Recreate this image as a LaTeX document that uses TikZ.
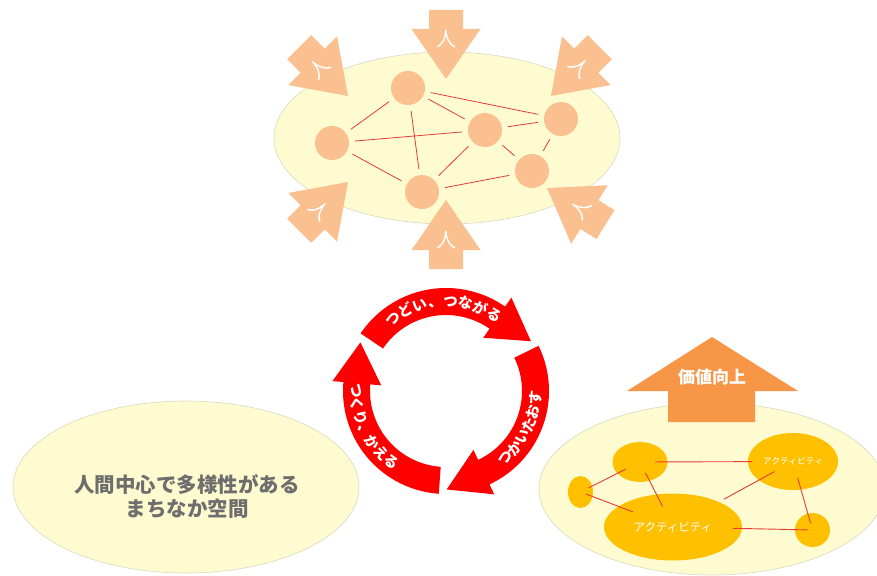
\documentclass[tikz,border=0pt]{standalone}
\usepackage{fontspec}
\newfontfamily\jp{Noto Sans CJK JP}
\usetikzlibrary{shapes.geometric,calc,decorations.text}
\definecolor{ellfill}{HTML}{FDFBCF}
\definecolor{ellline}{HTML}{D9D9C2}
\definecolor{peach}{HTML}{FAC090}
\definecolor{netred}{HTML}{E63B3B}
\definecolor{cycred}{HTML}{FF0000}
\definecolor{gold}{HTML}{FFC000}
\definecolor{orangeup}{HTML}{F79646}
\definecolor{txtgray}{HTML}{6E6E6E}
\newcommand\cyctxt{\jp\bfseries\fontsize{14.5}{14.5}\selectfont}
\tikzset{
  bigell/.style={ellipse, fill=ellfill, draw=ellline, line width=0.6pt, minimum width=346pt, minimum height=172pt, inner sep=0pt},
  hub/.style={circle, fill=peach, minimum size=34pt, inner sep=0pt},
  netline/.style={draw=netred, line width=0.8pt, shorten <=6pt, shorten >=6pt},
  actline/.style={draw=netred, line width=0.9pt},
  blob/.style={ellipse, fill=gold, inner sep=0pt, text=white},
  ptext/.style={text=white, font=\jp\fontsize{20}{20}\selectfont, transform shape, inner sep=0pt},
  pdown/.pic={\fill[peach] (0,0) -- (34.5,-50) -- (17,-50) -- (17,-69) -- (-17,-69) -- (-17,-50) -- (-34.5,-50) -- cycle;
              \node[ptext] (-t) at (0,-40) {人};},
  pup/.pic={\fill[peach] (0,0) -- (34.5,50) -- (17,50) -- (17,69) -- (-17,69) -- (-17,50) -- (-34.5,50) -- cycle;
              \node[ptext] (-t) at (0,40) {人};},
  cyctext/.style={decorate, decoration={text along path, text align=center, text color=white, text={|\cyctxt|#1}}}
}
\begin{document}
\begin{tikzpicture}[x=1pt,y=-1pt]
\useasboundingbox (0,0) rectangle (877,575);
\clip (0,0) rectangle (877,575);

% ---------- top: network ----------
\node[bigell] (net) at (447,138) {};
\node[hub] (A) at (408,88) {};
\node[hub] (B) at (332,143) {};
\node[hub] (C) at (485,130) {};
\node[hub] (D) at (561,119) {};
\node[hub] (E) at (422,192) {};
\node[hub] (F) at (532,171) {};
\foreach \u/\v in {A/B,A/C,A/D,A/E,B/C,B/E,C/D,C/E,C/F,D/F,E/F}
  \draw[netline] (\u) -- (\v);

\pic (pT) at (446,79) {pdown};
\pic[rotate=45] (pTL) at (348,96) {pdown};
\pic[rotate=-45] (pTR) at (551,96) {pdown};
\pic (pB) at (446,200) {pup};
\pic[rotate=-45] (pBL) at (348,182) {pup};
\pic[rotate=58] (pBR) at (547,188) {pup};

% ---------- left: city ----------
\node[bigell] (city) at (186,487) {};
\node[text=txtgray, align=center, font=\jp\bfseries\fontsize{20.5}{24}\selectfont] (citylabel) at (187,496) {人間中心で多様性がある\\まちなか空間};

% ---------- right: activities ----------
\node[bigell] (act) at (712,489) {};
\fill[orangeup] (712,337) -- (798,391) -- (755,391) -- (755,422) -- (668,422) -- (668,391) -- (627,391) -- cycle;
\node[text=white, font=\jp\bfseries\fontsize{17}{17}\selectfont] (value) at (712,377) {価値向上};

\node[blob, minimum width=55pt, minimum height=40pt] (E1) at (640,462) {};
\node[blob, minimum width=25pt, minimum height=32pt] (E2) at (580.5,492) {};
\node[blob, minimum width=138pt, minimum height=67pt, font=\jp\fontsize{11.5}{11.5}\selectfont] (E3) at (673,527) {アクティビティ};
\node[blob, minimum width=90pt, minimum height=57pt, font=\jp\fontsize{8.8}{8.8}\selectfont] (E4) at (793,461.5) {アクティビティ};
\node[blob, minimum width=35pt, minimum height=34pt] (E5) at (812.5,530) {};

\draw[actline, shorten <=16pt, shorten >=9pt] (E1.center) -- (E2.center);
\draw[actline, shorten <=15pt, shorten >=41pt] (E1.center) -- (E4.center);
\draw[actline, shorten <=12pt, shorten >=23pt] (E1.center) -- (E3.center);
\draw[actline, shorten <=6pt, shorten >=43pt] (E2.center) -- (E3.center);
\draw[actline, shorten <=58pt, shorten >=21pt] (E3.center) -- (E4.center);
\draw[actline, shorten <=60pt, shorten >=5pt] (E3.center) -- (E5.center);
\draw[actline, shorten <=17pt, shorten >=7pt] (E4.center) -- (E5.center);

% ---------- centre: cycle ----------
\begin{scope}[shift={(446,391)}, x=1pt, y=1pt]
\coordinate (cyc) at (0,0);
\fill[cycred] (146:103) arc[start angle=146, end angle=55, radius=103] -- (55:114) -- ($(55:89.5)+(-35:41)$) -- (55:65) -- (55:76) arc[start angle=55, end angle=146, radius=76] -- cycle;
\fill[cycred] (26:103) arc[start angle=26, end angle=-65, radius=103] -- (-65:114) -- ($(-65:89.5)+(-155:41)$) -- (-65:65) -- (-65:76) arc[start angle=-65, end angle=26, radius=76] -- cycle;
\fill[cycred] (-94:103) arc[start angle=-94, end angle=-185, radius=103] -- (-185:114) -- ($(-185:89.5)+(-275:41)$) -- (-185:65) -- (-185:76) arc[start angle=-185, end angle=-94, radius=76] -- cycle;
\path[cyctext={つどい、つながる}] (132:84.5) arc[start angle=132, end angle=52, radius=84.5];
\path[cyctext={つかいたおす}] (-70:95) arc[start angle=-70, end angle=17, radius=95];
\path[cyctext={つくり、かえる}] (160:95) arc[start angle=160, end angle=252, radius=95];
\end{scope}
\end{tikzpicture}
\end{document}
